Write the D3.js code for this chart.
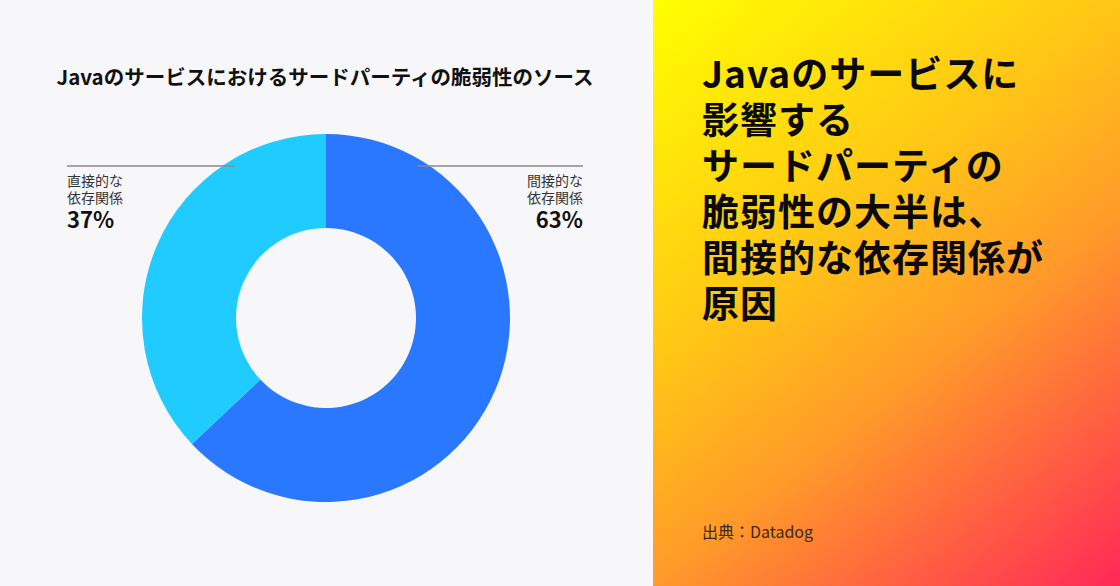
<!DOCTYPE html>
<html lang="ja">
<head>
    <meta charset="UTF-8">
    <title>Javaのサービスにおけるサードパーティの脆弱性のソース</title>
    <script src="https://cdnjs.cloudflare.com/ajax/libs/d3/7.8.4/d3.min.js"></script>
    <style>
        html, body { margin: 0; padding: 0; background: #f7f7fa; }
        svg { display: block; font-family: "Noto Sans CJK JP", "Noto Sans", sans-serif; }
    </style>
</head>
<body>
    <svg width="1120" height="586"></svg>

    <script>
        // data
        const categories = ["間接的な依存関係", "直接的な依存関係"];
        const labelLines = [["間接的な", "依存関係"], ["直接的な", "依存関係"]];
        const values = [63, 37];
        const colors = ["#2a78ff", "#1fcbff"];

        const chartTitle = "Javaのサービスにおけるサードパーティの脆弱性のソース";
        const headline = ["Javaのサービスに", "影響する", "サードパーティの", "脆弱性の大半は、", "間接的な依存関係が", "原因"];
        const source = "出典：Datadog";

        const width = 1120;
        const height = 586;
        const panelX = 653;

        const svg = d3.select("svg");

        // backgrounds
        svg.append("rect")
            .attr("width", panelX).attr("height", height)
            .attr("fill", "#f7f7fa");

        const grad = svg.append("defs").append("linearGradient")
            .attr("id", "panel")
            .attr("gradientUnits", "userSpaceOnUse")
            .attr("x1", panelX).attr("y1", 0)
            .attr("x2", width).attr("y2", height);
        grad.selectAll("stop")
            .data([[0, "#ffff00"], [0.39, "#ffc516"], [0.61, "#ff9a2a"], [1, "#ff2858"]])
            .enter().append("stop")
            .attr("offset", d => d[0])
            .attr("stop-color", d => d[1]);

        svg.append("rect")
            .attr("x", panelX).attr("width", width - panelX).attr("height", height)
            .attr("fill", "url(#panel)");

        // left chart title
        svg.append("text")
            .attr("x", 325).attr("y", 85)
            .attr("text-anchor", "middle")
            .style("font-size", "20.5px")
            .style("font-weight", 700)
            .attr("fill", "#111")
            .text(chartTitle);

        // donut
        const cx = 326, cy = 318;
        const pie = d3.pie().sort(null).value(d => d);
        const arc = d3.arc().innerRadius(90).outerRadius(184);

        const g = svg.append("g").attr("transform", `translate(${cx},${cy})`);
        g.selectAll("path")
            .data(pie(values))
            .enter().append("path")
            .attr("d", arc)
            .attr("fill", (d, i) => colors[i]);

        // labels: right side for first slice, left side for second
        const labelPos = [
            { x: 583, lineX: 417, anchor: "end" },
            { x: 67, lineX: 235, anchor: "start" }
        ];

        const lab = svg.selectAll("g.label")
            .data(categories)
            .enter().append("g")
            .attr("class", "label");

        lab.append("line")
            .attr("x1", (d, i) => labelPos[i].x)
            .attr("x2", (d, i) => labelPos[i].lineX)
            .attr("y1", 166).attr("y2", 166)
            .attr("stroke", "#8a8a8e")
            .attr("stroke-width", 1.5);

        // one text block per label: two name lines and the value
        lab.each(function(d, i) {
            const t = d3.select(this).append("text")
                .attr("x", labelPos[i].x)
                .attr("y", 186)
                .attr("text-anchor", labelPos[i].anchor);
            labelLines[i].forEach((s, j) => {
                t.append("tspan")
                    .attr("x", labelPos[i].x)
                    .attr("y", 186 + j * 17)
                    .style("font-size", "14px")
                    .attr("fill", "#333")
                    .text(s);
            });
            t.append("tspan")
                .attr("x", labelPos[i].x)
                .attr("y", 228)
                .style("font-size", "22px")
                .style("font-weight", 700)
                .attr("fill", "#111")
                .text(values[i] + "%");
        });

        // right panel headline
        const head = svg.append("text")
            .attr("x", 702).attr("y", 88)
            .style("font-size", "37px")
            .style("font-weight", 700)
            .style("letter-spacing", "1px")
            .attr("fill", "#0a0a0a");
        head.selectAll("tspan")
            .data(headline)
            .enter().append("tspan")
            .attr("x", 702)
            .attr("y", (d, i) => 88 + i * 46)
            .text(d => d);

        svg.append("text")
            .attr("x", 702).attr("y", 538)
            .style("font-size", "16px")
            .attr("fill", "#3a2a1a")
            .text(source);
    </script>
</body>
</html>
